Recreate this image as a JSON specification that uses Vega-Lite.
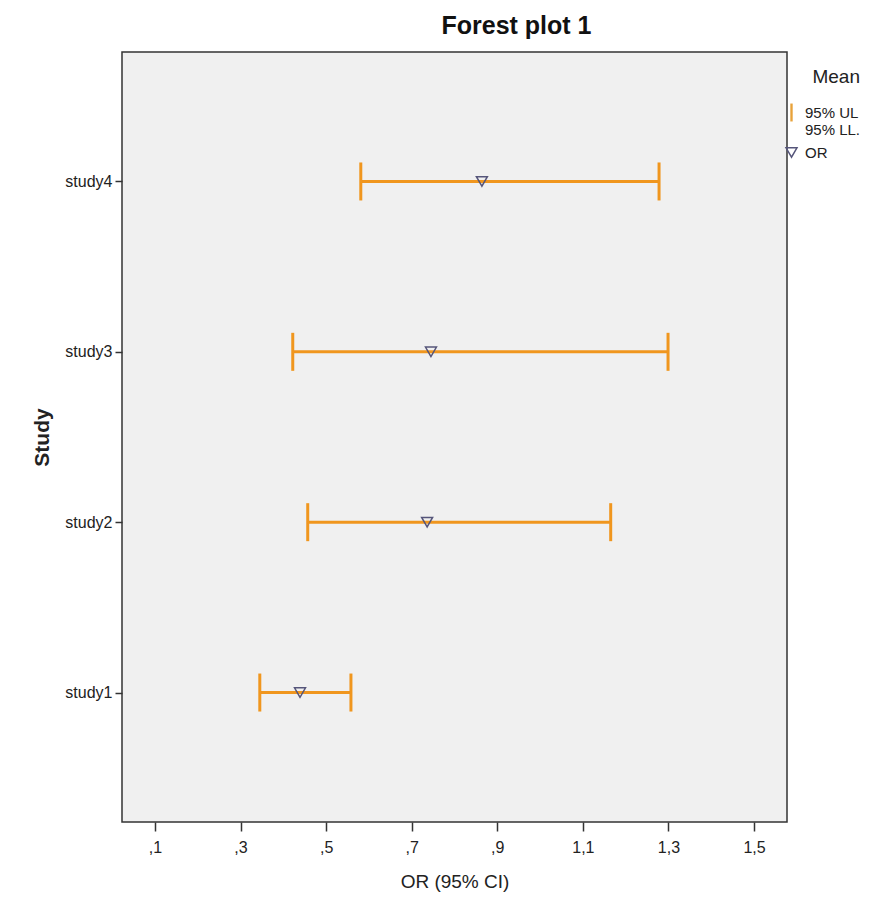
{
  "$schema": "https://vega.github.io/schema/vega-lite/v6.json",
  "autosize": "none",
  "padding": {"left": 122, "top": 52, "right": 94, "bottom": 77},
  "width": 665,
  "height": 770,
  "background": "white",
  "title": {
    "text": "Forest plot 1",
    "font": "Liberation Sans",
    "fontSize": 25,
    "fontWeight": "bold",
    "color": "#111111",
    "anchor": "middle",
    "dx": 62,
    "offset": 13
  },
  "config": {
    "view": {"fill": "#f0f0f0", "stroke": "#333333", "strokeWidth": 1.5},
    "axis": {"labelFont": "Liberation Sans", "titleFont": "Liberation Sans", "labelColor": "#222222", "titleColor": "#222222", "grid": false, "domain": false, "tickColor": "#333333"}
  },
  "data": {
    "values": [
      {"study": "study4", "or": 0.864, "low": 0.581, "high": 1.278},
      {"study": "study3", "or": 0.745, "low": 0.422, "high": 1.299},
      {"study": "study2", "or": 0.736, "low": 0.457, "high": 1.165},
      {"study": "study1", "or": 0.439, "low": 0.345, "high": 0.558}
    ]
  },
  "encoding": {
    "y": {
      "field": "study",
      "type": "nominal",
      "sort": ["study4", "study3", "study2", "study1"],
      "scale": {"type": "point", "padding": 0.76},
      "axis": {"title": "Study", "titleFontSize": 21, "titleFontWeight": "bold", "titlePadding": 12, "labelFontSize": 16, "tickSize": 7, "labelPadding": 3, "tickWidth": 1.5}
    }
  },
  "layer": [
    {
      "mark": {"type": "rule", "color": "#f0961e", "strokeWidth": 3},
      "encoding": {
        "x": {
          "field": "low",
          "type": "quantitative",
          "scale": {"domain": [0.023, 1.577], "nice": false, "zero": false},
          "axis": {
            "title": "OR (95% CI)",
            "titleFontSize": 19,
            "titleFontWeight": "normal",
            "titlePadding": 17,
            "values": [0.1, 0.3, 0.5, 0.7, 0.9, 1.1, 1.3, 1.5],
            "labelExpr": "replace(replace(format(datum.value, '.1f'), '0.', ','), '.', ',')",
            "labelFontSize": 16,
            "tickSize": 9,
            "tickWidth": 1.5,
            "labelPadding": 8
          }
        },
        "x2": {"field": "high"}
      }
    },
    {
      "transform": [{"fold": ["low", "high"], "as": ["end", "val"]}],
      "mark": {"type": "tick", "orient": "vertical", "color": "#f0961e", "thickness": 3, "size": 38, "opacity": 1},
      "encoding": {
        "x": {"field": "val", "type": "quantitative"}
      }
    },
    {
      "mark": {"type": "point", "filled": false, "size": 120, "strokeWidth": 1.5, "opacity": 1},
      "encoding": {
        "x": {"field": "or", "type": "quantitative"},
        "shape": {
          "datum": "OR",
          "scale": {"domain": ["UL", "OR"], "range": ["M-0.08,-1.5H0.08V1.5H-0.08Z", "triangle-down"]},
          "legend": null
        },
        "color": {
          "datum": "OR",
          "scale": {"domain": ["UL", "OR"], "range": ["#e8a23a", "#55557a"]},
          "legend": {
            "title": "Mean",
            "orient": "none",
            "legendX": 662,
            "legendY": 16,
            "titleAnchor": "end",
            "titlePadding": 18,
            "titleFont": "Liberation Sans",
            "titleFontSize": 19,
            "titleFontWeight": "normal",
            "titleColor": "#222222",
            "labelFont": "Liberation Sans",
            "labelFontSize": 15,
            "labelColor": "#222222",
            "labelExpr": "datum.label == 'UL' ? ['95% UL', '\u00a095% LL.'] : datum.label",
            "symbolType": "triangle-down",
            "symbolSize": 120,
            "symbolStrokeWidth": 1.5,
            "labelOffset": 6,
            "rowPadding": 6,
            "encode": {
              "labels": {"update": {"lineHeight": {"value": 14}}}
            }
          }
        }
      }
    }
  ]
}
